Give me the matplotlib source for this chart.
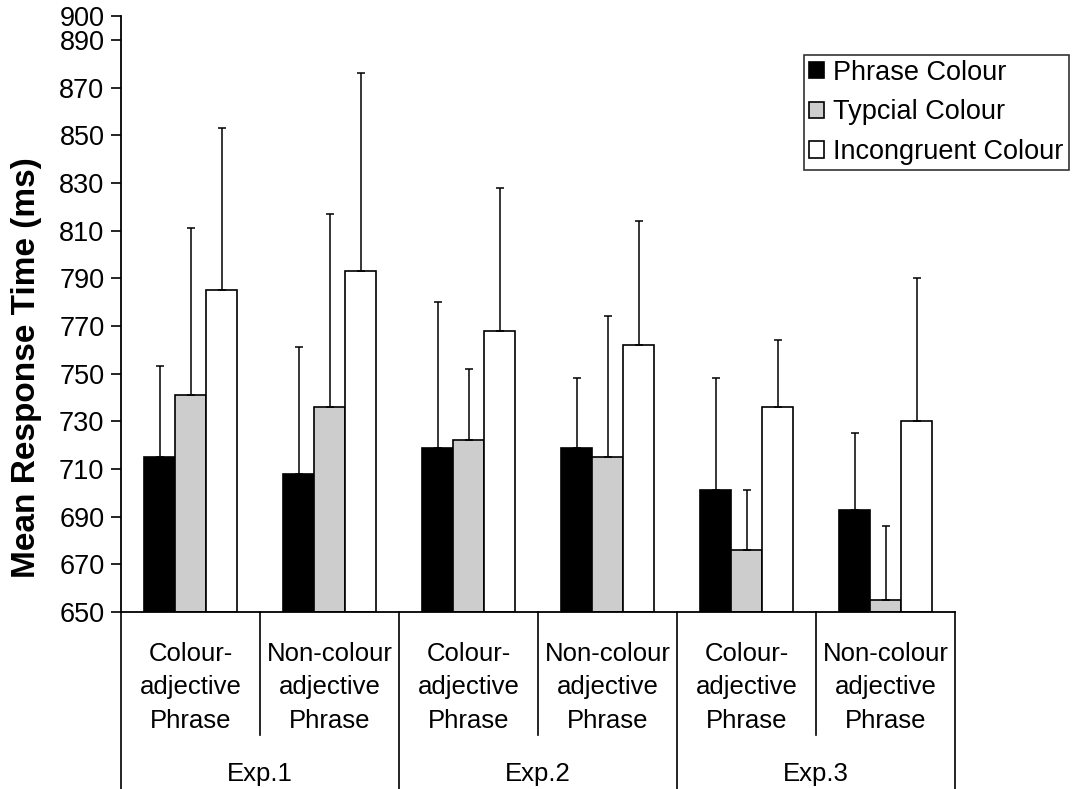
import matplotlib
matplotlib.use("Agg")
import matplotlib.pyplot as plt
import matplotlib.transforms as mtransforms
import numpy as np

plt.rcParams["font.family"] = ["Liberation Sans", "DejaVu Sans"]

# values (ms)
conditions = ["Colour-\nadjective\nPhrase", "Non-colour\nadjective\nPhrase"] * 3
experiments = ["Exp.1", "Exp.2", "Exp.3"]
series = ["Phrase Colour", "Typcial Colour", "Incongruent Colour"]

phrase_mean = [715, 708, 719, 719, 701, 693]
phrase_err = [38, 53, 61, 29, 47, 32]
typical_mean = [741, 736, 722, 715, 676, 655]
typical_err = [70, 81, 30, 59, 25, 31]
incong_mean = [785, 793, 768, 762, 736, 730]
incong_err = [68, 83, 60, 52, 28, 60]

yticks = [650, 670, 690, 710, 730, 750, 770, 790, 810, 830, 850, 870, 890, 900]

means = [phrase_mean, typical_mean, incong_mean]
errs = [phrase_err, typical_err, incong_err]
colors = ["black", "#cdcdcd", "white"]

fig = plt.figure(figsize=(10.75, 7.89), dpi=100)
ax = fig.add_axes([0.1126, 0.2243, 0.7758, 0.7554])

x = np.arange(len(conditions))
w = 0.223
for i in range(3):
    m = np.array(means[i])
    e = np.array(errs[i])
    ax.bar(x + (i - 1) * w, m - 650, w, bottom=650, color=colors[i],
           edgecolor="black", linewidth=1.2, label=series[i], zorder=2)
    ax.errorbar(x + (i - 1) * w, m, yerr=[np.zeros_like(e), e], fmt="none",
                ecolor="black", elinewidth=1.1, capsize=3, capthick=1.1, zorder=3)

ax.set_xlim(-0.5, len(conditions) - 0.5)
ax.set_ylim(650, 900)
ax.set_yticks(yticks)
ax.tick_params(axis="y", direction="out", length=7, width=1.2, labelsize=19.5, pad=5)
ax.set_xticks([])
for s in ["top", "right"]:
    ax.spines[s].set_visible(False)
for s in ["left", "bottom"]:
    ax.spines[s].set_linewidth(1.3)
ax.set_ylabel("Mean Response Time (ms)", fontsize=24, fontweight="bold")
ax.yaxis.set_label_coords(-0.095, 0.41)

# category frame below the axis
trans = mtransforms.blended_transform_factory(ax.transData, ax.transAxes)
for k in range(len(conditions) + 1):
    xb = k - 0.5
    bottom = -0.306 if k % 2 == 0 else -0.207
    ax.plot([xb, xb], [0, bottom], color="black", lw=1.2, transform=trans,
            clip_on=False)
for k, lab in enumerate(conditions):
    ax.text(k, -0.126, lab, transform=trans, ha="center", va="center",
            fontsize=18.5, linespacing=1.5)
for j, lab in enumerate(experiments):
    ax.text(2 * j + 0.5, -0.272, lab, transform=trans, ha="center",
            va="center", fontsize=18.5)

leg = ax.legend(loc="upper left", bbox_to_anchor=(804 / 1075, 1 - 55 / 789),
                bbox_transform=fig.transFigure, fontsize=19.5, frameon=True,
                fancybox=False, edgecolor="black", borderpad=0.18,
                handlelength=0.55, handleheight=0.55, handletextpad=0.35,
                labelspacing=0.5, borderaxespad=0)
leg.get_frame().set_linewidth(1.2)

fig.savefig("out.png", dpi=100)
